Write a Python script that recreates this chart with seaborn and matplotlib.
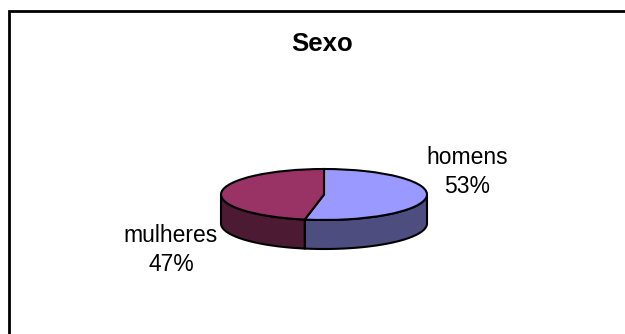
import numpy as np
import matplotlib
matplotlib.use("Agg")
import matplotlib.pyplot as plt
from matplotlib.transforms import Affine2D
from matplotlib.patches import Rectangle
import seaborn as sns

# ---- data ----
categories = ["homens", "mulheres"]
values = [53, 47]
title = "Sexo"

top_colors = ["#9999FF", "#993366"]
side_colors = ["#4D4D80", "#4D1A33"]

sns.set_theme(style="white")
plt.rcParams["font.family"] = ["Liberation Sans", "DejaVu Sans"]

W, H = 625, 334
fig = plt.figure(figsize=(W / 100, H / 100), dpi=100)
ax = fig.add_axes([0, 0, 1, 1])

def py(y):
    return H - y

# pie geometry (pixels)
cx, cy = 324, py(194.5)
a, b = 103, 25.5
depth = 29

# side walls from data
total = float(sum(values))
start = 90.0
angles = []
for v in values:
    end = start - 360.0 * v / total
    angles.append((end, start))
    start = end

for (t1, t2), col in zip(angles, side_colors):
    # intersect with the front half [-180, 0] (also wrapped ranges)
    segs = []
    for off in (0, 360, -360):
        l = max(t1 + off, -180.0)
        h = min(t2 + off, 0.0)
        if h > l:
            segs.append((l, h))
    for l, h in segs:
        t = np.radians(np.linspace(l, h, 80))
        xs = cx + a * np.cos(t)
        ys = cy + b * np.sin(t)
        px = np.concatenate([xs, xs[::-1]])
        pyy = np.concatenate([ys, ys[::-1] - depth])
        ax.fill(px, pyy, facecolor=col, edgecolor="black", lw=1.5, zorder=1)

wedges, _ = ax.pie(values, colors=top_colors, startangle=90, counterclock=False,
                   wedgeprops=dict(edgecolor="black", linewidth=1.5))
tr = Affine2D().scale(a, b).translate(cx, cy) + ax.transData
for w in wedges:
    w.set_transform(tr)
    w.set_zorder(2)

ax.set_aspect("auto")
ax.set_xlim(0, W)
ax.set_ylim(0, H)
ax.axis("off")

# labels
label_pos = [(467, py(172)), (171, py(250))]
for cat, v, (lx, ly) in zip(categories, values, label_pos):
    ax.text(lx, ly, f"{cat}\n{v}%", ha="center", va="center", fontsize=16.5,
            color="black", linespacing=1.35)

ax.text(322, py(44), title, ha="center", va="center", fontsize=18.5,
        fontweight="bold", color="black")

# chart border (open to the right/bottom as in the crop)
ax.add_patch(Rectangle((9, -20), 700, py(11) + 20, fill=False,
                       edgecolor="black", lw=2, zorder=5))

fig.savefig("out.png", dpi=100)
